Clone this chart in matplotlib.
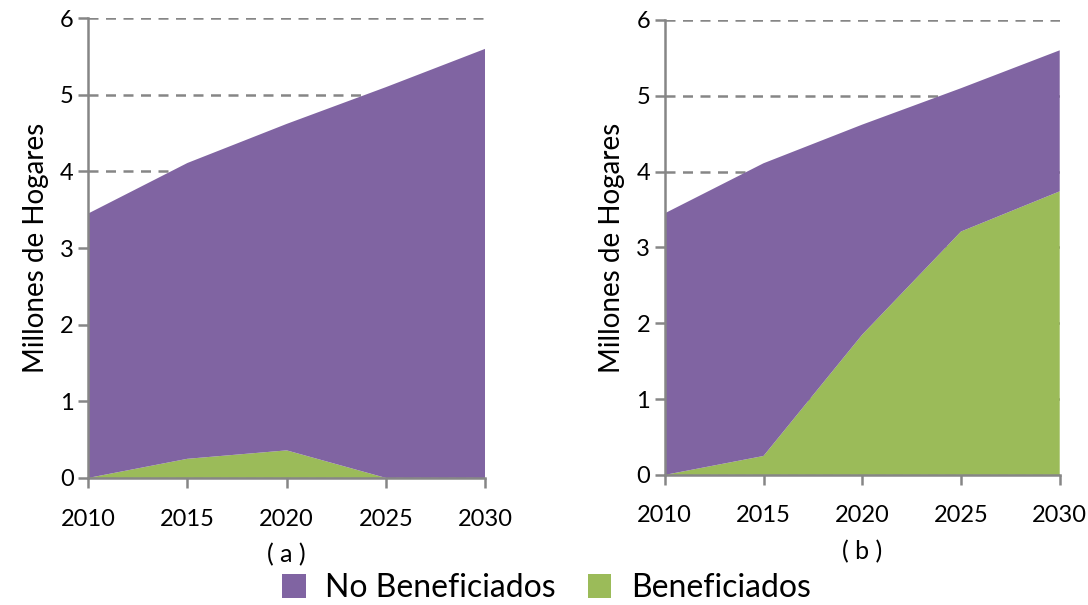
import numpy as np
import matplotlib.pyplot as plt
from matplotlib.patches import Patch

plt.rcParams['font.family'] = ['Lato', 'DejaVu Sans']

years = [2010, 2015, 2020, 2025, 2030]
total = [3.45, 4.11, 4.62, 5.10, 5.60]
benef_a = [0.0, 0.25, 0.36, 0.0, 0.0]
benef_b = [0.0, 0.25, 1.85, 3.21, 3.74]
yticks = [0, 1, 2, 3, 4, 5, 6]

purple = '#8064A2'
green = '#9BBB59'
gray = '#868686'
fs = 17

fig = plt.figure(figsize=(10.88, 6.05), dpi=100)
ax1 = fig.add_axes([0.081, 0.210, 0.365, 0.760])
ax2 = fig.add_axes([0.611, 0.215, 0.363, 0.752])

for ax, benef, cap in ((ax1, benef_a, '( a )'), (ax2, benef_b, '( b )')):
    no_benef = np.array(total) - np.array(benef)
    ax.stackplot(years, benef, no_benef, colors=[green, purple], zorder=2)
    ax.set_xlim(2010, 2030)
    ax.set_ylim(0, 6)
    ax.set_xticks(years)
    ax.set_yticks(yticks)
    ax.yaxis.grid(True, color=gray, linestyle=(0, (4, 3)), linewidth=1.8, zorder=1)
    for s in ('top', 'right'):
        ax.spines[s].set_visible(False)
    for s in ('left', 'bottom'):
        ax.spines[s].set_color(gray)
        ax.spines[s].set_linewidth(1.8)
        ax.spines[s].set_zorder(3)
    ax.tick_params(axis='both', colors=gray, labelcolor='black', labelsize=fs,
                   length=7, width=1.8)
    ax.tick_params(axis='x', pad=15)
    ax.set_ylabel('Millones de Hogares', fontsize=20, labelpad=8)
    ax.set_xlabel(cap, fontsize=18, labelpad=10)
    ax.set_axisbelow(True)

handles = [Patch(facecolor=purple, label='No Beneficiados'),
           Patch(facecolor=green, label='Beneficiados')]
fig.legend(handles=handles, loc='center', bbox_to_anchor=(0.502, 0.028), ncol=2,
           frameon=False, fontsize=23, handlelength=0.75, handleheight=0.75,
           handletextpad=0.6, columnspacing=1.0)

plt.savefig('out.png', dpi=100)
